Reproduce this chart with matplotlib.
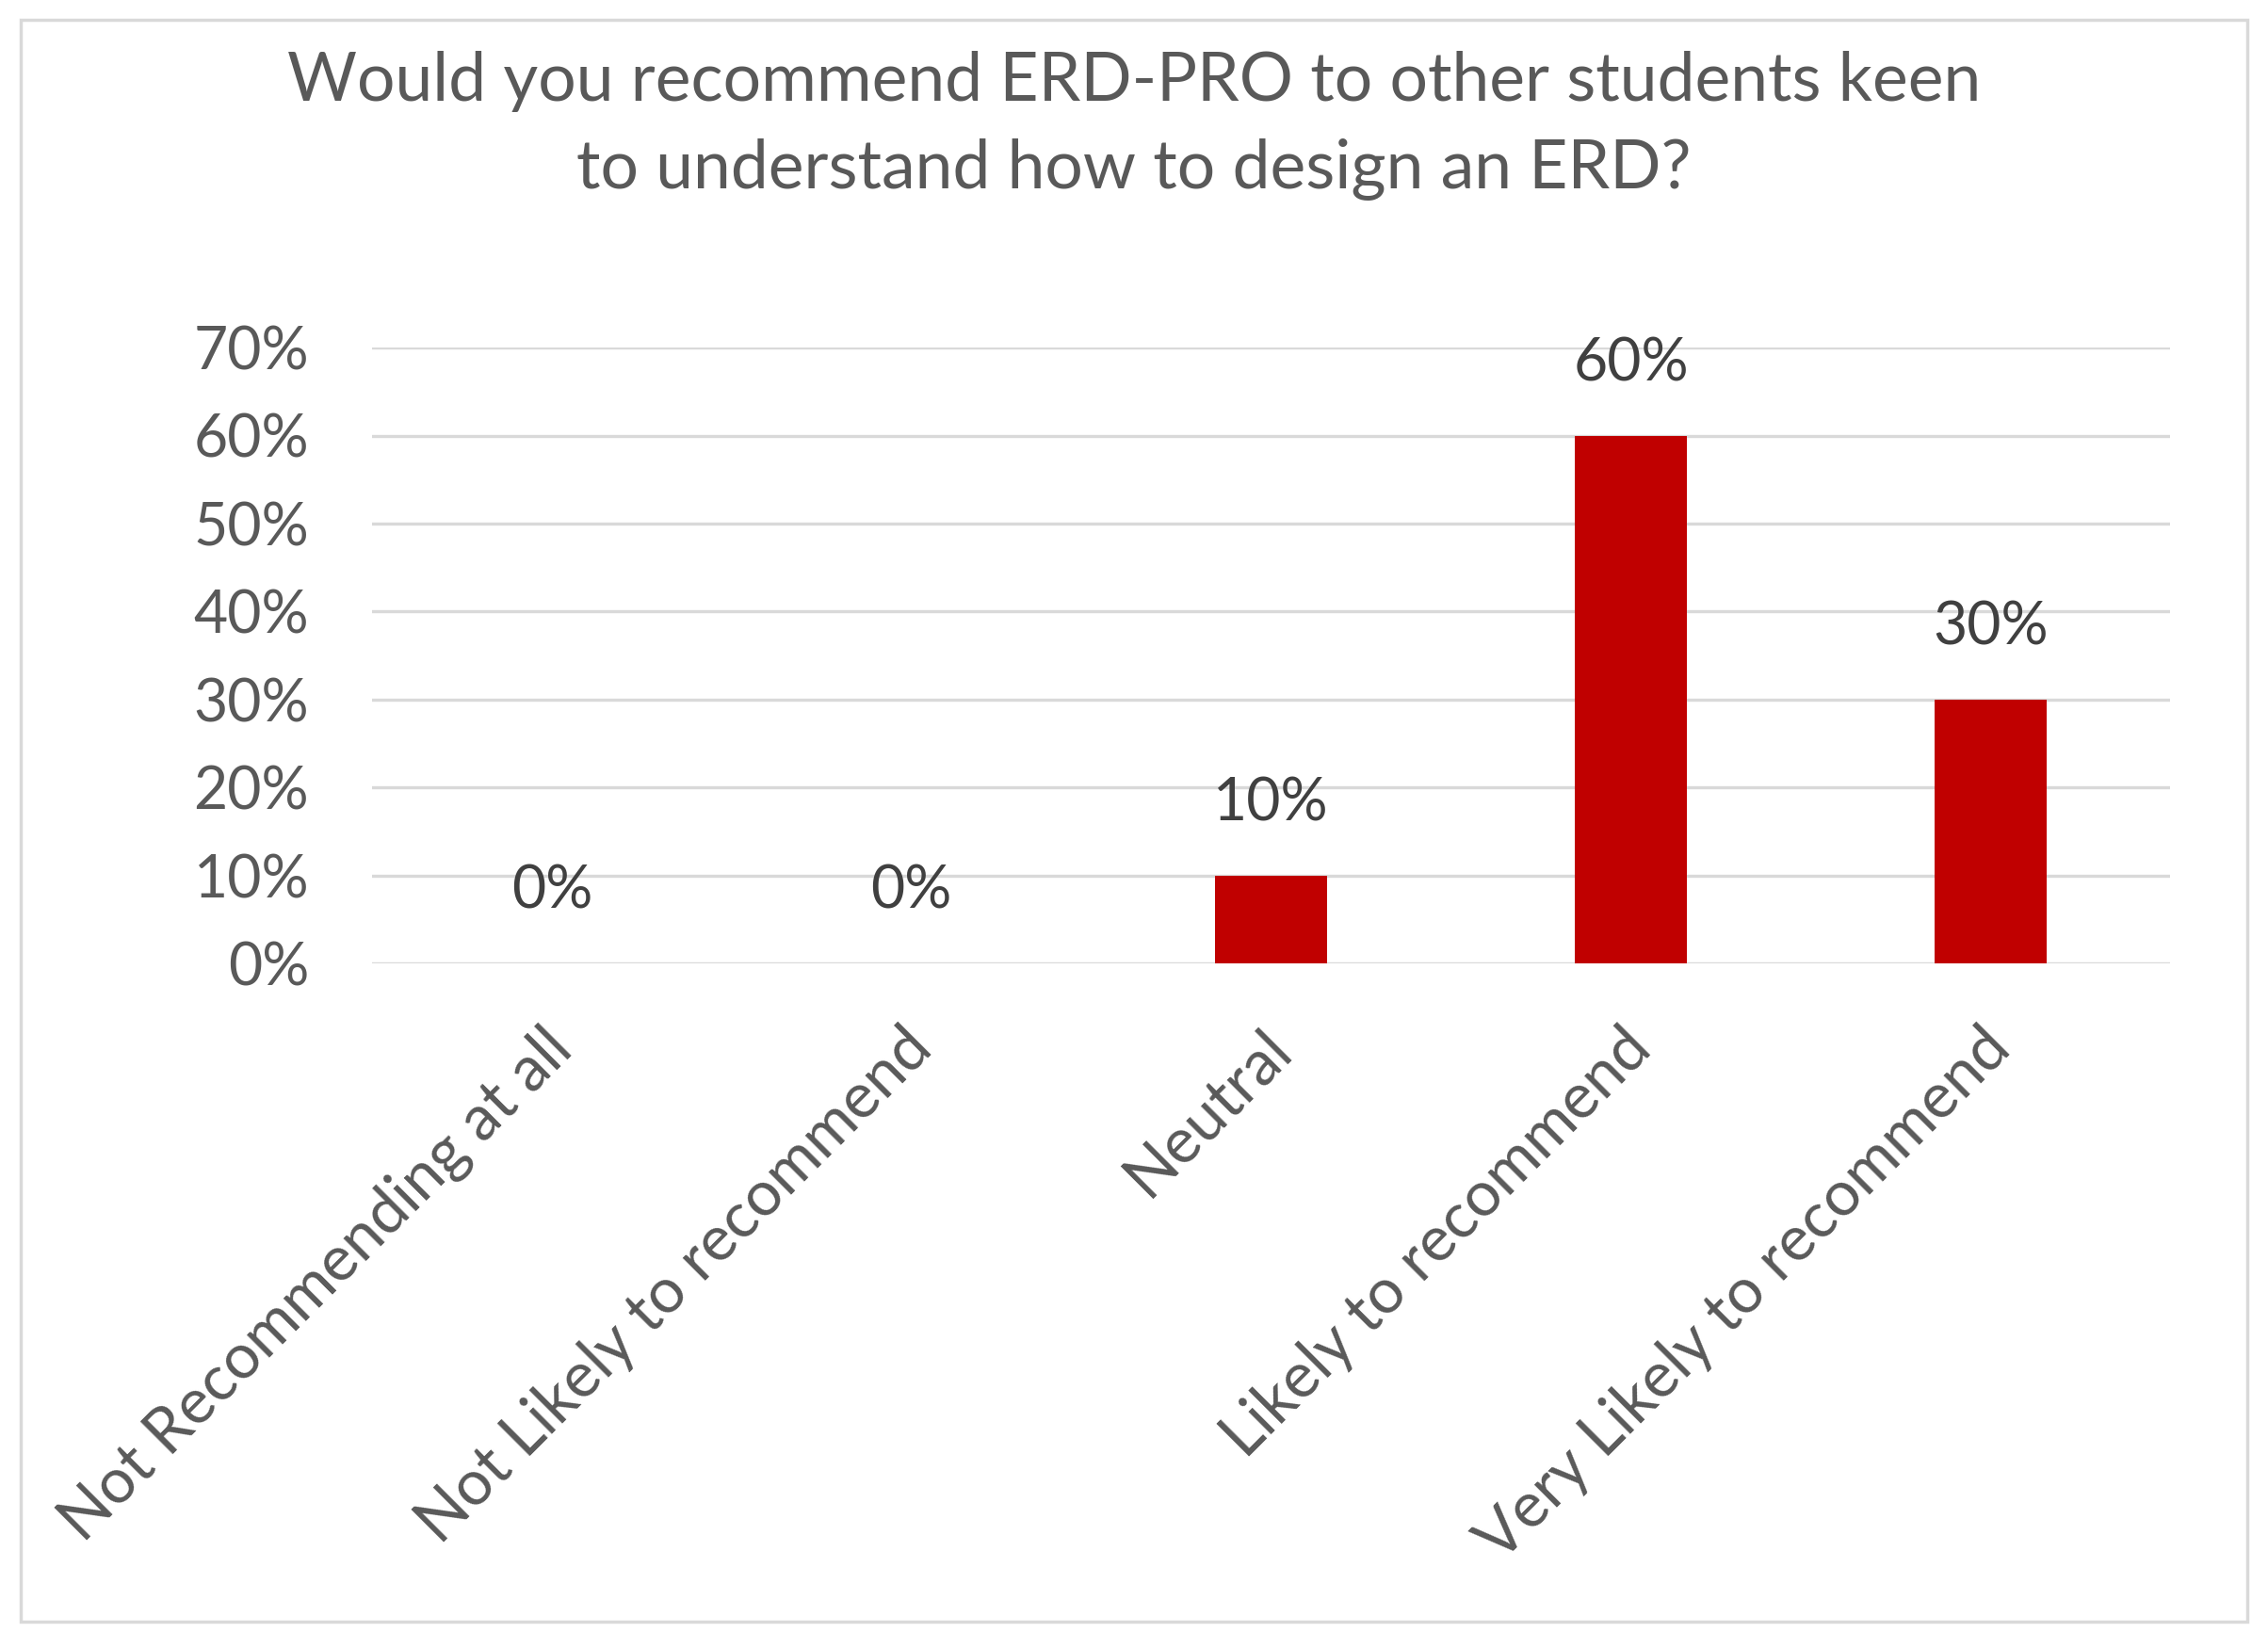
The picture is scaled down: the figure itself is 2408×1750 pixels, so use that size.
import numpy as np
import matplotlib.pyplot as plt
from matplotlib.patches import Rectangle
from matplotlib.ticker import PercentFormatter
from matplotlib.transforms import ScaledTranslation

plt.rcParams['font.family'] = ['Lato', 'DejaVu Sans']

categories = ["Not Recommending at all", "Not Likely to recommend", "Neutral",
              "Likely to recommend", "Very Likely to recommend"]
values = [0.0, 0.0, 0.10, 0.60, 0.30]
yticks = [0, 0.1, 0.2, 0.3, 0.4, 0.5, 0.6, 0.7]
title = "Would you recommend ERD-PRO to other students keen\nto understand how to design an ERD?"

grey = "#595959"
grid_grey = "#D9D9D9"
bar_red = "#C00000"

fig = plt.figure(figsize=(24.08, 17.5), dpi=100)
ax = fig.add_axes([0.164, 0.4154, 0.793, 0.3737])

x = np.arange(len(categories))
bars = ax.bar(x, values, width=0.31, color=bar_red, zorder=3)

ax.set_xlim(-0.5, len(categories) - 0.5)
ax.set_ylim(0, 0.7)
ax.set_yticks(yticks)
ax.yaxis.set_major_formatter(PercentFormatter(1.0, decimals=0))
ax.yaxis.grid(True, color=grid_grey, linewidth=2.4, zorder=0)
ax.set_axisbelow(True)

for s in ax.spines.values():
    s.set_visible(False)
ax.tick_params(axis='both', length=0, labelcolor=grey)
ax.tick_params(axis='y', pad=48, labelsize=45)
ax.tick_params(axis='x', pad=42, labelsize=48)

ax.set_xticks(x)
ax.set_xticklabels(categories, rotation=45, ha='right', rotation_mode='anchor')
# nudge the rotated labels a little to the left
shift = ScaledTranslation(-0.11, 0, fig.dpi_scale_trans)
for lbl in ax.get_xticklabels():
    lbl.set_transform(lbl.get_transform() + shift)

for xi, v in zip(x, values):
    ax.annotate(f"{v:.0%}", (xi, v), xytext=(0, 34), textcoords='offset points',
                ha='center', va='bottom', fontsize=45, color="#404040")

fig.text(0.5, 0.969, title, ha='center', va='top', fontsize=51.5, color=grey,
         linespacing=1.52)

fig.patches.append(Rectangle((0.009, 0.016), 0.982, 0.972, transform=fig.transFigure,
                             fill=False, edgecolor=grid_grey, linewidth=2.5))

fig.savefig("out.png", dpi=100)
